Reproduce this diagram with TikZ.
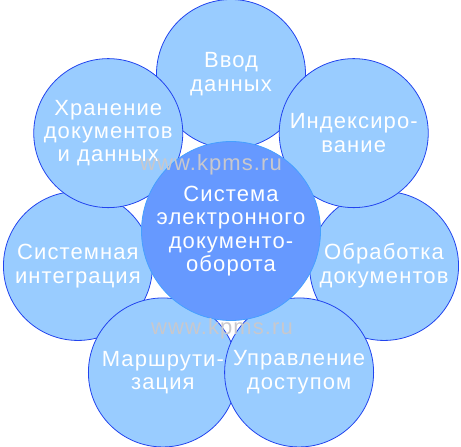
\documentclass[tikz,border=0pt]{standalone}
\usepackage{fontspec}
\newfontfamily\petalfont[LetterSpace=5]{Liberation Sans}
\usepackage{tikz}
\usetikzlibrary{shapes,positioning}

\definecolor{petalblue}{RGB}{153,204,255}
\definecolor{hubblue}{RGB}{102,153,255}
\definecolor{rimblue}{RGB}{34,68,238}
\definecolor{hubrim}{RGB}{70,160,255}
\definecolor{markgray}{RGB}{200,200,205}

\begin{document}
\begin{tikzpicture}[semithick, font=\petalfont\fontsize{22}{23.5}\selectfont]
\tikzstyle{petal}=[circle, draw=rimblue, line width=0.8pt, fill=petalblue, text=white,
                   minimum size=149pt, inner sep=0pt, align=center]
\tikzstyle{hub}=[circle, draw=hubrim, line width=0.8pt, fill=hubblue, text=white,
                 minimum size=179pt, inner sep=0pt, align=center]
\tikzstyle{watermark}=[text=markgray, inner sep=0pt]
\useasboundingbox (0,0) rectangle (461pt,-447pt);
\coordinate (mid) at (231pt,-231pt);
\node[petal] (1V) at ([shift={(90:157pt)}]mid) {Ввод\\данных};
\node[petal] (3O) at ([shift={(-12.86:157pt)}]mid) {Обработка\\документов};
\node[petal] (6S) at ([shift={(192.86:157pt)}]mid) {Системная\\интеграция};
\node[petal] (5M) at ([shift={(244.29:157pt)}]mid) {Маршрути-\\зация};
\node[petal] (4U) at ([shift={(-64.29:157pt)}]mid) {Управление\\доступом};
\node[petal] (2I) at ([shift={(38.57:157pt)}]mid) {Индексиро-\\вание};
\node[petal] (7H) at ([shift={(141.43:157pt)}]mid) {Хранение\\документов\\и данных};
\node[hub] (0S) at (mid) {Система\\электронного\\документо-\\оборота};
\node[watermark] (wm1) at (211pt,-165pt) {www.kpms.ru};
\node[watermark] (wm2) at (222pt,-329pt) {www.kpms.ru};
\end{tikzpicture}
\end{document}
